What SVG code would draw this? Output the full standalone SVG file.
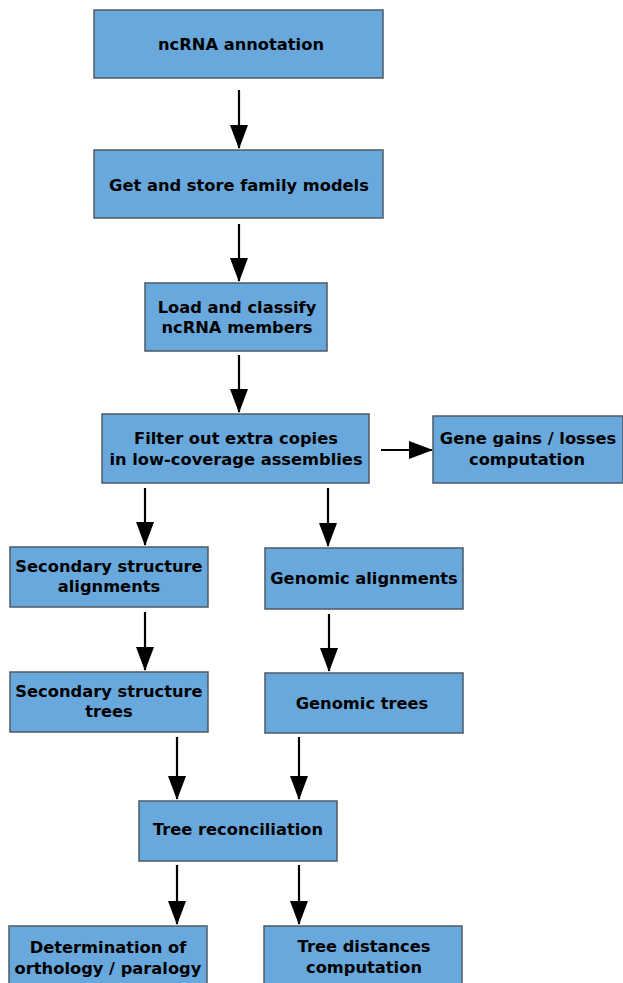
<svg xmlns="http://www.w3.org/2000/svg" width="623" height="983" viewBox="0 0 623 983">
<defs>
<marker id="ah" markerUnits="userSpaceOnUse" markerWidth="24" markerHeight="18" refX="23" refY="9" orient="auto" viewBox="0 0 24 18">
<path d="M0,0 L24,9 L0,18 Z" fill="#000"/>
</marker>
<style>
.box{fill:#68a8dc;stroke:#4d5966;stroke-width:1.5}
.t{font-family:"DejaVu Sans",Verdana,sans-serif;font-weight:bold;font-size:16.3px;fill:#000;text-anchor:middle}
.c{stroke:#000;stroke-width:2.2;fill:none;marker-end:url(#ah)}
</style>
</defs>
<rect width="623" height="983" fill="#fff"/>
<g id="connectors">
<line class="c" x1="239" y1="90" x2="239" y2="148"/>
<line class="c" x1="239" y1="224" x2="239" y2="281"/>
<line class="c" x1="239" y1="355" x2="239" y2="412"/>
<line class="c" x1="381" y1="450" x2="432" y2="450"/>
<line class="c" x1="145" y1="488" x2="145" y2="545"/>
<line class="c" x1="328" y1="488" x2="328" y2="546"/>
<line class="c" x1="145" y1="612" x2="145" y2="670"/>
<line class="c" x1="329" y1="614" x2="329" y2="671"/>
<line class="c" x1="177" y1="737" x2="177" y2="799"/>
<line class="c" x1="299" y1="737" x2="299" y2="799"/>
<line class="c" x1="177" y1="865" x2="177" y2="924"/>
<line class="c" x1="299" y1="865" x2="299" y2="924"/>
</g>
<g id="n1"><rect class="box" x="94" y="10" width="289" height="68"/><text class="t" x="241" y="50">ncRNA annotation</text></g>
<g id="n2"><rect class="box" x="94" y="150" width="289" height="68"/><text class="t" x="239" y="191">Get and store family models</text></g>
<g id="n3"><rect class="box" x="145" y="283" width="182" height="68"/><text class="t" x="237" y="313">Load and classify</text><text class="t" x="237" y="333">ncRNA members</text></g>
<g id="n4"><rect class="box" x="102" y="414" width="267" height="69"/><text class="t" x="236" y="444">Filter out extra copies</text><text class="t" x="236" y="465">in low-coverage assemblies</text></g>
<g id="n5"><rect class="box" x="433" y="416" width="190" height="67"/><text class="t" x="528" y="444">Gene gains / losses</text><text class="t" x="527" y="465">computation</text></g>
<g id="n6"><rect class="box" x="10" y="547" width="198" height="60"/><text class="t" x="109" y="572">Secondary structure</text><text class="t" x="109" y="592">alignments</text></g>
<g id="n7"><rect class="box" x="265" y="548" width="198" height="61"/><text class="t" x="364" y="584">Genomic alignments</text></g>
<g id="n8"><rect class="box" x="10" y="672" width="198" height="60"/><text class="t" x="109" y="697">Secondary structure</text><text class="t" x="109" y="717">trees</text></g>
<g id="n9"><rect class="box" x="265" y="673" width="198" height="60"/><text class="t" x="362" y="709">Genomic trees</text></g>
<g id="n10"><rect class="box" x="139" y="801" width="198" height="60"/><text class="t" x="238" y="835">Tree reconciliation</text></g>
<g id="n11"><rect class="box" x="9" y="926" width="198" height="60"/><text class="t" x="108" y="953">Determination of</text><text class="t" x="108" y="974">orthology / paralogy</text></g>
<g id="n12"><rect class="box" x="264" y="926" width="198" height="60"/><text class="t" x="364" y="952">Tree distances</text><text class="t" x="364" y="973">computation</text></g>
</svg>
